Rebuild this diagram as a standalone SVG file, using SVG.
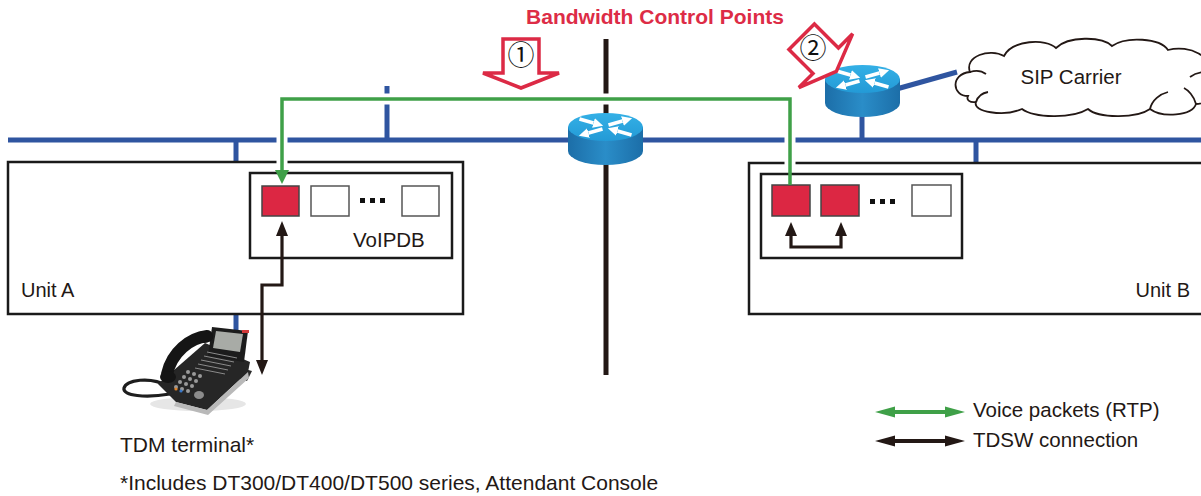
<svg xmlns="http://www.w3.org/2000/svg" width="1201" height="496" viewBox="0 0 1201 496">
  <style>
    .lan { stroke: #2f55a0; stroke-width: 5; fill: none; }
    .unit { fill: #fff; stroke: #1a1a1a; stroke-width: 2.5; }
    .db { fill: #fff; stroke: #1a1a1a; stroke-width: 2.5; }
    .slot { fill: #fff; stroke: #555; stroke-width: 1.5; }
    .slot.active { fill: #dc2743; stroke: #444; }
    .dot { fill: #111; }
    .txt { font-family: "Liberation Sans", Arial, sans-serif; fill: #231815; }
    .rtp { stroke: #3fa048; stroke-width: 3.5; fill: none; }
    .tdsw { stroke: #231815; stroke-width: 3.2; fill: none; }
    .cp { fill: #fff; stroke: #dc2a45; stroke-width: 3.5; stroke-linejoin: miter; }
    .cpnum { font-family: "Noto Sans CJK JP", "DejaVu Sans", sans-serif; font-size: 27px; fill: #111; }
  </style>
  <defs>
    <linearGradient id="rside" x1="0" y1="0" x2="1" y2="0">
      <stop offset="0" stop-color="#1c6ea8"/>
      <stop offset="0.5" stop-color="#2a8dc8"/>
      <stop offset="1" stop-color="#1c6ea8"/>
    </linearGradient>
    <linearGradient id="rtop" x1="0" y1="0" x2="0" y2="1">
      <stop offset="0" stop-color="#34b0e6"/>
      <stop offset="1" stop-color="#239ad6"/>
    </linearGradient>
    <marker id="wh" viewBox="0 0 10 10" refX="0" refY="5" markerWidth="10" markerHeight="10" markerUnits="userSpaceOnUse" orient="auto">
      <path d="M0,0 L10,5 L0,10 Z" fill="#fff"/>
    </marker>
    <!-- router icon, origin at centre of the top face -->
    <g id="router">
      <path d="M-37.5,0 V24 A37.5,14 0 0 0 37.5,24 V0 Z" fill="url(#rside)"/>
      <ellipse rx="37.5" ry="14" fill="url(#rtop)"/>
      <g stroke="#fff" stroke-width="3.6" fill="none" marker-end="url(#wh)">
        <path d="M-26,-8 L-12,-4"/>
        <path d="M3,-2 L17,-6"/>
        <path d="M-3,2 L-17,6"/>
        <path d="M26,8 L12,4"/>
      </g>
    </g>
    <!-- control-point arrow, origin at the number -->
    <path id="cparrow" d="M-18,-16 H18 V18 H38 L0,33 L-38,18 H-18 Z"/>
  </defs>

  <rect width="1201" height="496" fill="#fff"/>

  <!-- LAN backbone and drops -->
  <g id="lan">
    <path class="lan" d="M8,140 H1201"/>
    <path class="lan" d="M236,140 V162"/>
    <path class="lan" d="M236,314 V330"/>
    <path class="lan" d="M387,86 V140"/>
    <path class="lan" d="M976,140 V163"/>
    <path class="lan" d="M862,112 V140"/>
    <path class="lan" stroke-width="4" d="M893,90 L957,72"/>
  </g>

  <!-- site boundary -->
  <path id="boundary" d="M606,39 V375" stroke="#231815" stroke-width="5"/>

  <!-- Unit A -->
  <g id="unit-a">
    <rect class="unit" x="8" y="162" width="455" height="152"/>
    <text class="txt" x="21" y="297" font-size="20">Unit A</text>
  </g>
  <g id="voipdb-a">
    <rect class="db" x="250" y="173" width="202" height="85"/>
    <rect class="slot active" x="262" y="186" width="37" height="30"/>
    <rect class="slot" x="311" y="186" width="38" height="30"/>
    <rect class="dot" x="360" y="198" width="5" height="5"/>
    <rect class="dot" x="370" y="198" width="5" height="5"/>
    <rect class="dot" x="380" y="198" width="5" height="5"/>
    <rect class="slot" x="402" y="186" width="37" height="30"/>
    <text class="txt" x="353" y="247" font-size="20.5">VoIPDB</text>
  </g>

  <!-- Unit B -->
  <g id="unit-b">
    <rect class="unit" x="749" y="163" width="470" height="151"/>
    <text class="txt" x="1190" y="297" font-size="20" text-anchor="end">Unit B</text>
  </g>
  <g id="voipdb-b">
    <rect class="db" x="761" y="174" width="201" height="84"/>
    <rect class="slot active" x="772" y="185" width="38" height="31"/>
    <rect class="slot active" x="821" y="185" width="38" height="31"/>
    <rect class="dot" x="870" y="199" width="5" height="5"/>
    <rect class="dot" x="880" y="199" width="5" height="5"/>
    <rect class="dot" x="890" y="199" width="5" height="5"/>
    <rect class="slot" x="912" y="185" width="39" height="31"/>
  </g>

  <!-- routers -->
  <g id="router-core"><use href="#router" x="605.5" y="127"/></g>
  <g id="router-sip"><use href="#router" x="862.5" y="79"/></g>

  <!-- SIP carrier cloud -->
  <g id="sip-carrier">
    <path d="M968,96 C952,96 950,74 970,72 C964,56 990,48 1004,56 C1012,40 1046,38 1056,48 C1068,36 1102,36 1112,46 C1126,36 1160,38 1168,50 C1190,44 1215,58 1206,72 C1218,80 1214,104 1196,104 C1192,116 1162,118 1150,109 C1136,119 1098,118 1088,109 C1072,119 1034,118 1022,109 C1004,117 972,112 976,102 C970,103 966,100 968,96 Z" fill="#fff" stroke="#231815" stroke-width="1.8"/>
    <g fill="none" stroke="#231815" stroke-width="1.8">
      <path d="M970,72 C976,70 982,71 986,74"/>
      <path d="M976,102 C978,96 982,93 988,92"/>
      <path d="M1150,109 C1152,100 1160,94 1168,92"/>
      <path d="M1196,104 C1194,96 1188,90 1184,88"/>
      <path d="M1206,72 C1200,72 1194,74 1190,77"/>
    </g>
    <text class="txt" x="1071" y="84" font-size="20.5" text-anchor="middle">SIP Carrier</text>
  </g>

  <!-- TDM terminal (desk phone) -->
  <g id="tdm-terminal">
    <ellipse cx="198" cy="404" rx="48" ry="7" fill="#e6e6e6"/>
    <path d="M168,386 C150,376 126,380 124,388 C122,396 146,398 170,394" fill="none" stroke="#1e1e1e" stroke-width="3.2"/>
    <path d="M234,366 L252,371 L247,381 L231,377 Z" fill="#2b2b2b"/>
    <path d="M158,384 L205,343 L250,362 L248,372 L207,410 L176,402 Z" fill="#262626"/>
    <path d="M176,402 L207,410 L248,372 L249,378 L208,415 L174,406 Z" fill="#b9b9b9"/>
    <path d="M212,327 L248,331 L244,362 L208,356 Z" fill="#1c1c1c"/>
    <path d="M216,331 L243,334 L240,352 L213,348 Z" fill="#a8aba6"/>
    <rect x="242" y="330" width="7" height="3" fill="#d23a3a"/>
    <g stroke="#8a8a8a" stroke-width="1">
      <path d="M207,352 L237,358"/>
      <path d="M204,356 L234,362"/>
      <path d="M201,360 L231,366"/>
      <path d="M198,364 L228,370"/>
      <path d="M195,368 L225,374"/>
    </g>
    <g fill="#9a9a9a">
      <circle cx="188" cy="372" r="2"/><circle cx="194" cy="374" r="2"/><circle cx="200" cy="376" r="2"/>
      <circle cx="184" cy="377" r="2"/><circle cx="190" cy="379" r="2"/><circle cx="196" cy="381" r="2"/>
      <circle cx="180" cy="382" r="2"/><circle cx="186" cy="384" r="2"/><circle cx="192" cy="386" r="2"/>
      <circle cx="176" cy="387" r="2"/><circle cx="182" cy="389" r="2"/><circle cx="188" cy="391" r="2"/>
    </g>
    <circle cx="176" cy="389" r="1.6" fill="#e0842c"/>
    <circle cx="181" cy="391" r="1.6" fill="#3a78c8"/>
    <ellipse cx="199" cy="395" rx="5" ry="4" fill="#8c8c8c"/>
    <path d="M207,336 C190,338 172,352 167,374" fill="none" stroke="#151515" stroke-width="12" stroke-linecap="round"/>
    <ellipse cx="204" cy="337" rx="9" ry="6" fill="#151515"/>
    <ellipse cx="168" cy="377" rx="8" ry="6" fill="#151515"/>
    <text class="txt" x="120" y="452" font-size="21">TDM terminal*</text>
  </g>

  <!-- connectors -->
  <g id="connectors">
    <!-- RTP path with a white gap where it crosses other lines -->
    <path d="M790,172 V99 H282 V166" fill="none" stroke="#fff" stroke-width="11"/>
    <path class="rtp" d="M790,185 V99 H282 V172"/>
    <polygon points="282,184 275,170 289,170" fill="#3fa048"/>
    <!-- TDSW paths -->
    <path class="tdsw" d="M282,234 V285 H262 V362"/>
    <polygon points="282,221 276,236 288,236" fill="#231815"/>
    <polygon points="262,375 256,360 268,360" fill="#231815"/>
    <path class="tdsw" d="M791,234 V247 H841 V234"/>
    <polygon points="791,222 785,236 797,236" fill="#231815"/>
    <polygon points="841,222 835,236 847,236" fill="#231815"/>
  </g>

  <!-- bandwidth control points -->
  <g id="control-points">
    <text x="655" y="24" font-family="Liberation Sans, Arial, sans-serif" font-weight="bold" font-size="21" fill="#dd2c46" text-anchor="middle">Bandwidth Control Points</text>
    <g id="cp1">
      <use href="#cparrow" class="cp" transform="translate(521,55)"/>
      <text class="cpnum" x="521" y="65" text-anchor="middle">①</text>
    </g>
    <g id="cp2">
      <use href="#cparrow" class="cp" transform="translate(813,48) rotate(-45)"/>
      <text class="cpnum" x="813" y="58" text-anchor="middle">②</text>
    </g>
  </g>

  <!-- legend -->
  <g id="legend">
    <path d="M892,412 H948" stroke="#3fa048" stroke-width="4"/>
    <polygon points="875,412 895,406.5 895,417.5" fill="#3fa048"/>
    <polygon points="965,412 945,406.5 945,417.5" fill="#3fa048"/>
    <path d="M892,441 H948" stroke="#231815" stroke-width="4"/>
    <polygon points="875,441 895,435.5 895,446.5" fill="#231815"/>
    <polygon points="965,441 945,435.5 945,446.5" fill="#231815"/>
    <text class="txt" x="973" y="417" font-size="20.5">Voice packets (RTP)</text>
    <text class="txt" x="973" y="447" font-size="20.5">TDSW connection</text>
  </g>

  <text class="txt" x="120" y="490" font-size="21">*Includes DT300/DT400/DT500 series, Attendant Console</text>
</svg>
